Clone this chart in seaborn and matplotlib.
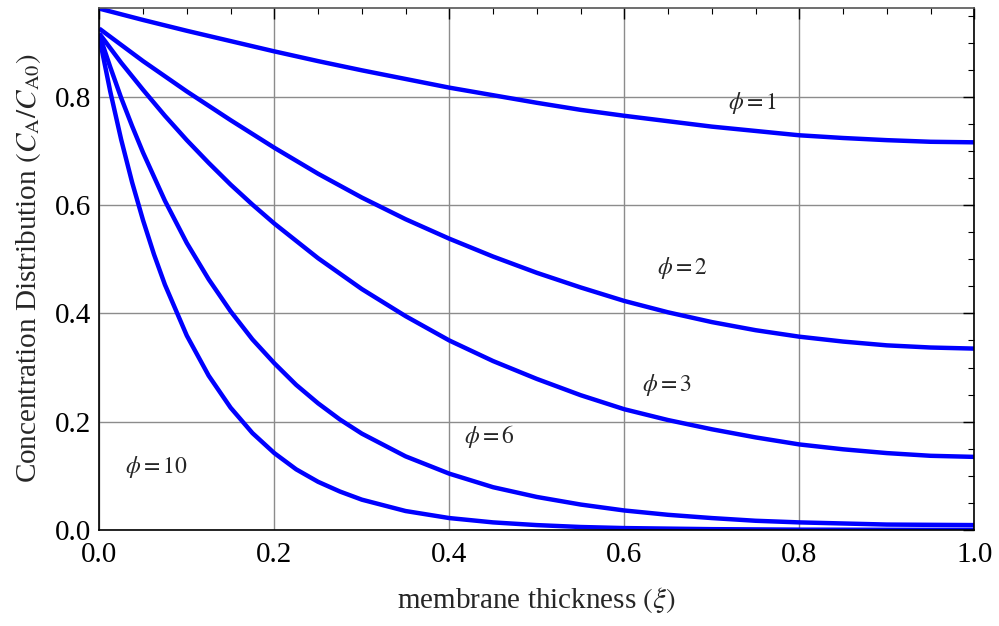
import numpy as np
import pandas as pd
import matplotlib
matplotlib.use("Agg")
import matplotlib.pyplot as plt
import seaborn as sns
from matplotlib.ticker import MultipleLocator

# ---- data ----
x_phi1 = [0.0, 0.05, 0.1, 0.15, 0.2, 0.25, 0.3, 0.35, 0.4, 0.45, 0.5,
          0.55, 0.6, 0.65, 0.7, 0.75, 0.8, 0.85, 0.9, 0.95, 1.0]
y_phi1 = [0.963, 0.942, 0.922, 0.903, 0.884, 0.866, 0.849, 0.833, 0.817, 0.803, 0.789,
          0.776, 0.765, 0.755, 0.745, 0.737, 0.729, 0.724, 0.720, 0.717, 0.716]

x_phi2 = [0.0, 0.025, 0.05, 0.075, 0.1, 0.15, 0.2, 0.25, 0.3, 0.35, 0.4, 0.45, 0.5,
          0.55, 0.6, 0.65, 0.7, 0.75, 0.8, 0.85, 0.9, 0.95, 1.0]
y_phi2 = [0.926, 0.896, 0.866, 0.838, 0.810, 0.757, 0.706, 0.658, 0.614, 0.574, 0.538, 0.505, 0.475,
          0.448, 0.423, 0.402, 0.384, 0.369, 0.357, 0.348, 0.341, 0.337, 0.335]

x_phi3 = [0.0, 0.025, 0.05, 0.075, 0.1, 0.125, 0.15, 0.175, 0.2, 0.25, 0.3, 0.35, 0.4, 0.45, 0.5,
          0.55, 0.6, 0.65, 0.7, 0.75, 0.8, 0.85, 0.9, 0.95, 1.0]
y_phi3 = [0.917, 0.863, 0.813, 0.765, 0.720, 0.678, 0.638, 0.601, 0.566, 0.502, 0.445, 0.395, 0.350, 0.312, 0.279,
          0.249, 0.223, 0.203, 0.186, 0.171, 0.158, 0.149, 0.142, 0.137, 0.135]

x_phi6 = [0.0, 0.0125, 0.025, 0.0375, 0.05, 0.075, 0.1, 0.125, 0.15, 0.175, 0.2, 0.225, 0.25, 0.275, 0.3,
          0.35, 0.4, 0.45, 0.5, 0.55, 0.6, 0.65, 0.7, 0.75, 0.8, 0.85, 0.9, 0.95, 1.0]
y_phi6 = [0.915, 0.855, 0.798, 0.746, 0.697, 0.608, 0.530, 0.463, 0.404, 0.352, 0.308, 0.268, 0.234, 0.204, 0.178,
          0.136, 0.104, 0.079, 0.061, 0.047, 0.036, 0.028, 0.022, 0.017, 0.014, 0.012, 0.010, 0.0095, 0.009]

x_phi10 = [0.0, 0.0125, 0.025, 0.0375, 0.05, 0.0625, 0.075, 0.1, 0.125, 0.15, 0.175, 0.2, 0.225, 0.25, 0.275,
           0.3, 0.35, 0.4, 0.45, 0.5, 0.55, 0.6, 0.7, 0.8, 0.9, 1.0]
y_phi10 = [0.910, 0.810, 0.721, 0.642, 0.572, 0.509, 0.453, 0.359, 0.285, 0.226, 0.179, 0.142, 0.112, 0.089, 0.071,
           0.056, 0.035, 0.022, 0.014, 0.009, 0.0055, 0.0035, 0.0015, 0.0006, 0.0003, 0.0002]

labels = [r"$\phi = 1$", r"$\phi = 2$", r"$\phi = 3$", r"$\phi = 6$", r"$\phi = 10$"]
label_pos = [(0.746, 0.788), (0.666, 0.484), (0.649, 0.268), (0.446, 0.172), (0.065, 0.116)]

xticks = [0.0, 0.2, 0.4, 0.6, 0.8, 1.0]
yticks = [0.0, 0.2, 0.4, 0.6, 0.8]

frames = []
for name, xs, ys in [("1", x_phi1, y_phi1), ("2", x_phi2, y_phi2), ("3", x_phi3, y_phi3),
                     ("6", x_phi6, y_phi6), ("10", x_phi10, y_phi10)]:
    frames.append(pd.DataFrame({"xi": xs, "c": ys, "phi": name}))
df = pd.concat(frames, ignore_index=True)

sns.set_style("white")
plt.rcParams["font.family"] = ["Liberation Serif", "DejaVu Serif"]
plt.rcParams["mathtext.fontset"] = "stix"

fig = plt.figure(figsize=(9.99, 6.26), dpi=100)
ax = fig.add_axes([0.0994, 0.1534, 0.8759, 0.8346])

sns.lineplot(data=df, x="xi", y="c", hue="phi", palette=["#0000ff"] * 5,
             linewidth=3.2, legend=False, sort=False, ax=ax, estimator=None)
for ln in ax.get_lines():
    ln.set_solid_joinstyle("round")
    ln.set_solid_capstyle("butt")

ax.set_xlim(0, 1.0)
ax.set_ylim(0, 0.965)
ax.set_xticks(xticks)
ax.set_yticks(yticks)
ax.set_xticklabels([f"{t:.1f}" for t in xticks])
ax.set_yticklabels([f"{t:.1f}" for t in yticks])
ax.xaxis.set_minor_locator(MultipleLocator(0.05))
ax.yaxis.set_minor_locator(MultipleLocator(0.05))
ax.tick_params(which="both", direction="in", top=True, right=True, labelsize=21, colors="black")
ax.tick_params(which="major", length=8, width=1.0)
ax.tick_params(which="minor", length=4.5, width=0.8)
ax.tick_params(axis="x", pad=9)
ax.tick_params(axis="y", pad=6)
ax.grid(True, which="major", color="#8c8c8c", linewidth=1.0)
for s in ax.spines.values():
    s.set_color("black")
    s.set_linewidth(1.2)
ax.spines["top"].set_color("#555555")

ax.set_xlabel(r"membrane thickness $(\xi)$", fontsize=21, labelpad=12)
ax.set_ylabel(r"Concentration Distribution $(C_{\mathrm{A}}/C_{\mathrm{A0}})$", fontsize=21, labelpad=8)

for lab, (lx, ly) in zip(labels, label_pos):
    ax.text(lx, ly, lab, fontsize=17, ha="center", va="center")

fig.savefig("out.png", dpi=100)
